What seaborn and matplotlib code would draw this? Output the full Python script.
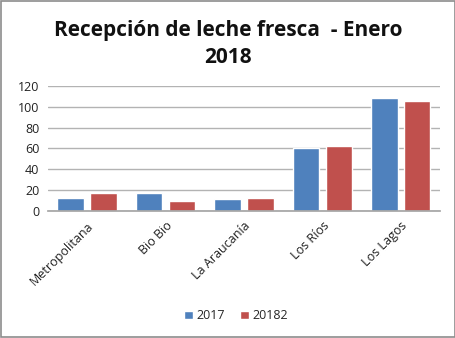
import matplotlib
matplotlib.use("Agg")
import matplotlib.pyplot as plt
import seaborn as sns
import pandas as pd
from matplotlib.patches import Rectangle

regions = ["Metropolitana", "Bio Bio", "La Araucanía", "Los Ríos", "Los Lagos"]
series_names = ["2017", "20182"]
values_2017 = [12.7, 17.0, 11.5, 60.6, 108.1]
values_2018 = [17.0, 9.6, 12.1, 62.2, 105.9]
y_ticks = [0, 20, 40, 60, 80, 100, 120]

df = pd.DataFrame({
    "region": regions * 2,
    "serie": [series_names[0]] * len(regions) + [series_names[1]] * len(regions),
    "valor": values_2017 + values_2018,
})

sns.set_theme(style="white")
plt.rcParams["font.family"] = ["Open Sans", "DejaVu Sans"]

fig = plt.figure(figsize=(4.56, 3.38), dpi=100)
ax = fig.add_axes([0.105, 0.376, 0.86, 0.37])

palette = {"2017": "#4F81BD", "20182": "#C0504D"}
sns.barplot(data=df, x="region", y="valor", hue="serie", palette=palette,
            width=0.84, gap=0.2, saturation=1, ax=ax, legend=True)

ax.set_ylim(0, 120)
ax.set_xlim(-0.5, len(regions) - 0.5)
ax.set_yticks(y_ticks)
ax.set_yticklabels([str(t) for t in y_ticks], fontsize=9, color="#222222")
ax.yaxis.grid(True, color="#B3B3B3", linewidth=1)
ax.set_axisbelow(True)
for s in ["left", "right", "top"]:
    ax.spines[s].set_visible(False)
ax.spines["bottom"].set_color("#A6A6A6")
ax.tick_params(axis="both", length=0, pad=6)
ax.set_xlabel("")
ax.set_ylabel("")
ax.set_xticks(range(len(regions)))
ax.set_xticklabels(regions, rotation=45, ha="right", rotation_mode="anchor",
                   fontsize=9, color="#222222")

leg = ax.legend(loc="center", bbox_to_anchor=(0.5 - 0.02, -0.84), ncol=2, frameon=False,
                fontsize=9, handlelength=0.7, handleheight=0.7, handletextpad=0.3,
                columnspacing=1.2)

fig.text(0.5, 0.87, "Recepción de leche fresca  - Enero\n2018", ha="center", va="center",
         fontsize=15, fontweight="bold", color="#111111", linespacing=1.4)

fig.add_artist(Rectangle((0.002, 0.003), 0.995, 0.994, transform=fig.transFigure,
                         fill=False, edgecolor="#8C8C8C", linewidth=1.2))

fig.savefig("out.png", dpi=100, facecolor="white")
